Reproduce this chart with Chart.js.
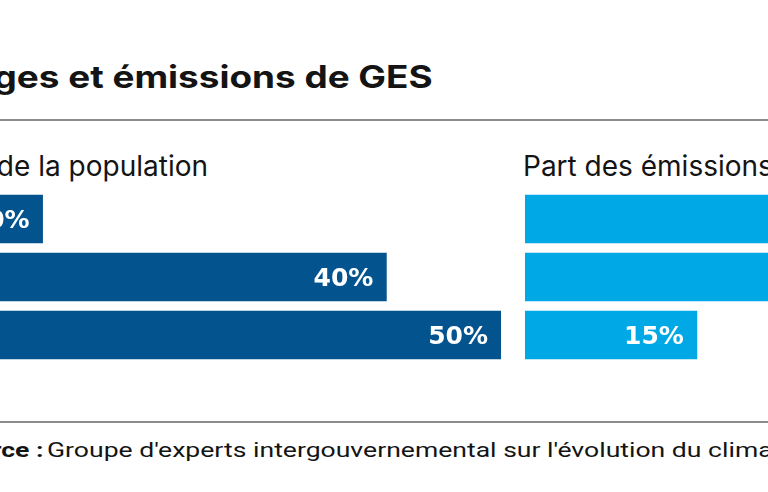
<!DOCTYPE html>
<html>
<head>
<meta charset="utf-8">
<script src="https://cdn.jsdelivr.net/npm/chart.js@4.4.1/dist/chart.umd.min.js"></script>
<style>
html,body{margin:0;padding:0;width:768px;height:492px;overflow:hidden;background:#fff;}
body{position:relative;}
.t{position:absolute;white-space:nowrap;color:#141414;}
#title{right:335px;top:61px;font:700 31px/31px Inter, sans-serif;transform:scaleX(1.19);transform-origin:right center;}
#subL{right:560px;top:152px;font:400 28px/28px Inter, sans-serif;}
#subR{left:523px;top:152px;font:400 28px/28px Inter, sans-serif;}
#srcB{right:725px;top:440px;font:700 21px/21px Roboto, sans-serif;transform:scaleX(1.265);transform-origin:right center;}
#srcT{left:47px;top:440px;font:400 21px/21px Roboto, sans-serif;transform:scaleX(1.265);transform-origin:left center;}
.rule{position:absolute;left:0;width:768px;height:2px;background:#8c8c8c;}
.box{position:absolute;top:190px;width:573px;height:174px;}
</style>
</head>
<body>
<div class="t" id="title">Ménages et émissions de GES</div>
<div class="rule" style="top:119px"></div>
<div class="t" id="subL">Part de la population</div>
<div class="t" id="subR">Part des émissions de GES</div>
<div class="box" style="left:-72px"><canvas id="cPop" width="573" height="174"></canvas></div>
<div class="box" style="left:525px"><canvas id="cEm" width="573" height="174"></canvas></div>
<div class="rule" style="top:421px"></div>
<div class="t" id="srcB">Source :</div>
<div class="t" id="srcT">Groupe d'experts intergouvernemental sur l'évolution du climat (GIEC)</div>
<script>
const categories = ['10 % les plus aisés', '40 % intermédiaires', '50 % les plus modestes'];
const populationShare = [10, 40, 50];
const emissionsShare = [45, 40, 15];
const axisMax = 50;

const labelPlugin = {
  id: 'barLabels',
  afterDatasetsDraw(chart) {
    const ctx = chart.ctx;
    const ds = chart.data.datasets[0];
    const meta = chart.getDatasetMeta(0);
    ctx.save();
    ctx.fillStyle = '#ffffff';
    ctx.font = '700 25px "DejaVu Sans", sans-serif';
    ctx.textAlign = 'right';
    ctx.textBaseline = 'alphabetic';
    meta.data.forEach((bar, i) => {
      ctx.fillText(ds.data[i] + '%', bar.x - 13, bar.y + 9);
    });
    ctx.restore();
  }
};

function makeChart(id, values, color) {
  return new Chart(document.getElementById(id), {
    type: 'bar',
    data: {
      labels: categories,
      datasets: [{ data: values, backgroundColor: color, borderWidth: 0, barThickness: 48 }]
    },
    options: {
      indexAxis: 'y',
      responsive: false,
      animation: false,
      layout: { padding: 0 },
      scales: {
        x: { display: false, min: 0, max: axisMax },
        y: { display: false }
      },
      plugins: { legend: { display: false }, tooltip: { enabled: false } }
    },
    plugins: [labelPlugin]
  });
}

makeChart('cPop', populationShare, '#03538f');
makeChart('cEm', emissionsShare, '#01a8e6');
</script>
</body>
</html>
